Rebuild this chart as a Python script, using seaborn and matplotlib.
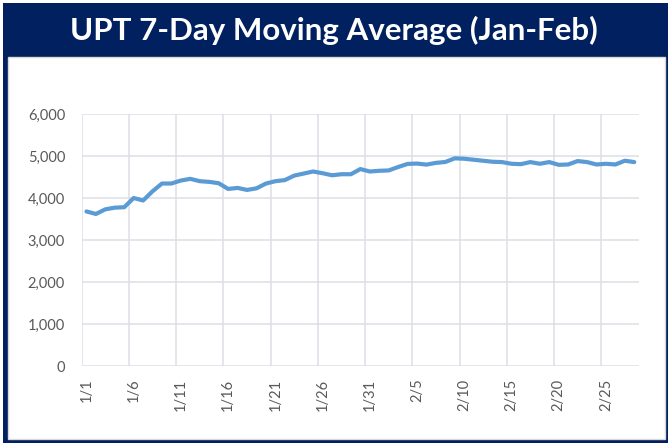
import matplotlib
matplotlib.use("Agg")
import matplotlib.pyplot as plt
from matplotlib.patches import Rectangle
import numpy as np
import pandas as pd
import seaborn as sns

# daily labels 1/1 .. 2/28
days = [f"{d.month}/{d.day}" for d in pd.date_range("2021-01-01", "2021-02-28")]
upt = [
    3680, 3620, 3730, 3770, 3780, 4000, 3940, 4160, 4345, 4345,
    4416, 4456, 4400, 4384, 4352, 4216, 4240, 4192, 4230, 4344,
    4400, 4426, 4533, 4582, 4631, 4590, 4541, 4566, 4566, 4689,
    4631, 4648, 4656, 4738, 4811, 4820, 4795, 4836, 4858, 4944,
    4935, 4911, 4887, 4863, 4855, 4815, 4806, 4855, 4815, 4855,
    4790, 4798, 4879, 4855, 4798, 4815, 4798, 4887, 4855,
]
y_ticks = [0, 1000, 2000, 3000, 4000, 5000, 6000]
title = "UPT 7-Day Moving Average (Jan-Feb)"

NAVY = "#002060"
LINE = "#5B9BD5"
GRID = "#DCDFE6"
TEXT = "#595959"

sns.set_style("white")
plt.rcParams["font.family"] = ["Lato", "DejaVu Sans"]

df = pd.DataFrame({"idx": np.arange(len(days)), "day": days, "upt": upt})

fig = plt.figure(figsize=(6.68, 4.43), dpi=100)
W, H = 668, 443

# navy frame + white inner panel (kept under the axes)
fig.add_artist(Rectangle((3 / W, 0), 1, 1 - 3 / H, transform=fig.transFigure,
                         facecolor=NAVY, edgecolor="none", zorder=-2))
fig.add_artist(Rectangle((8 / W, 4 / H), 657 / W, 382 / H, transform=fig.transFigure,
                         facecolor="white", edgecolor="#D9D9D9", lw=1, zorder=-1))
fig.text(0.5, 1 - 30 / H, title, color="white", fontsize=22.5, fontweight="bold",
         ha="center", va="center")

ax = fig.add_axes([81.7 / W, 77 / H, (639 - 81.7) / W, 252 / H])
ax.set_zorder(1)
ax.set_facecolor("white")
sns.lineplot(data=df, x="idx", y="upt", color=LINE, lw=3, ax=ax)

ax.set_xlim(-0.5, len(days) - 0.5)
ax.set_ylim(0, 6000)
ax.set_yticks(y_ticks)
ax.set_yticklabels([f"{v:,}" for v in y_ticks])
label_pos = list(range(0, len(days), 5))
ax.set_xticks(label_pos)
ax.set_xticklabels([days[i] for i in label_pos], rotation=90)
ax.set_xticks([i - 0.5 for i in label_pos], minor=True)

ax.grid(axis="y", which="major", color=GRID, lw=1.1)
ax.grid(axis="x", which="minor", color=GRID, lw=1.1)
ax.grid(axis="x", which="major", visible=False)
ax.set_axisbelow(True)
ax.tick_params(which="both", length=0)
ax.tick_params(axis="y", pad=12, labelsize=10.5, labelcolor=TEXT)
ax.tick_params(axis="x", pad=9, labelsize=10.5, labelcolor=TEXT)
ax.set_xlabel("")
ax.set_ylabel("")
for s in ax.spines.values():
    s.set_visible(False)

fig.savefig("out.png", dpi=100)
